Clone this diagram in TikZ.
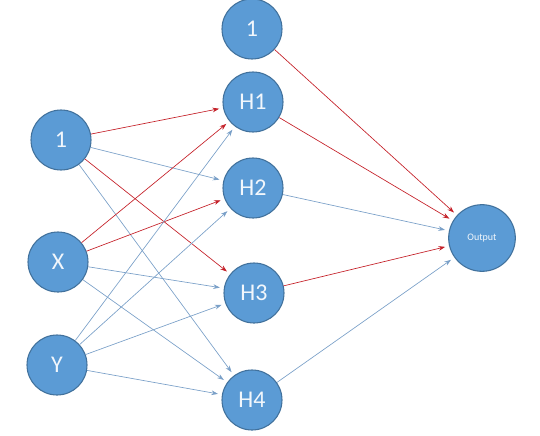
\documentclass[tikz,border=0pt]{standalone}
\usepackage{fontspec}
\setmainfont{Carlito}
\usetikzlibrary{arrows.meta}

\definecolor{cellblue}{RGB}{91,155,213}
\definecolor{cellrim}{RGB}{65,113,156}
\definecolor{wred}{RGB}{196,32,40}
\definecolor{wblue}{RGB}{122,160,200}

\begin{document}
\begin{tikzpicture}[x=0.75pt, y=-0.75pt,
	every node/.style={font=\fontsize{18}{20}\selectfont},
	cell/.style={circle, fill=cellblue, draw=cellrim, line width=0.8pt, minimum size=45pt, inner sep=0pt, text=white!92!cellblue},
	hot/.style={draw=wred, line width=0.5pt, -{Stealth[length=5pt,width=3.5pt]}, shorten >=3pt},
	cold/.style={draw=wblue, line width=0.5pt, -{Stealth[length=5pt,width=3.5pt]}, shorten >=3pt}]
	\useasboundingbox (0,0) rectangle (540,436);
	% input layer
	\node[cell] (i1) at (61,140) {1};
	\node[cell] (ix) at (58,262) {X};
	\node[cell] (iy) at (57,365) {Y};
	% hidden layer
	\node[cell] (h0) at (252,29) {1};
	\node[cell] (h1) at (253,102) {H1};
	\node[cell] (h2) at (253,188) {H2};
	\node[cell] (h3) at (254,293) {H3};
	\node[cell] (h4) at (252,400) {H4};
	% output
	\node[cell, minimum size=50pt, font=\fontsize{7.5}{8}\selectfont] (out) at (482,238) {Output};
	% input -> hidden
	\draw[hot] (i1) -- (h1);
	\draw[cold] (i1) -- (h2);
	\draw[hot] (i1) -- (h3);
	\draw[cold] (i1) -- (h4);
	\draw[hot] (ix) -- (h1);
	\draw[hot] (ix) -- (h2);
	\draw[cold] (ix) -- (h3);
	\draw[cold] (ix) -- (h4);
	\foreach \h in {h1,h2,h3,h4}
		\draw[cold] (iy) -- (\h);
	% hidden -> output
	\draw[hot] (h0) -- (out);
	\draw[hot] (h1) -- (out);
	\draw[cold] (h2) -- (out);
	\draw[hot] (h3) -- (out);
	\draw[cold] (h4) -- (out);
\end{tikzpicture}
\end{document}
